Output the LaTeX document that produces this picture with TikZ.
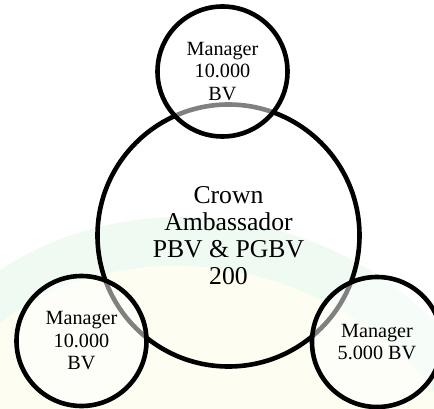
\documentclass[tikz,border=0pt]{standalone}
\usepackage{fontspec}
\setmainfont{Liberation Serif}
\definecolor{mint}{HTML}{EEFAF2}
\definecolor{cream}{HTML}{FEFDF1}
\begin{document}
\begin{tikzpicture}[x=1pt,y=-1pt,
  ring/.style={draw=black, line width=4.6pt, circle, inner sep=0pt, align=center},
  centre/.style={ring, minimum size=262pt, font=\fontsize{25.7}{27}\selectfont},
  member/.style={ring, minimum size=130pt, fill=white, fill opacity=0.5,
    text opacity=1, font=\fontsize{20.2}{22.5}\selectfont},
]
\useasboundingbox (0,0) rectangle (434,409);
\begin{scope}
  \clip (0,0) rectangle (434,409);
  % faint background emblem
  \fill[mint, rotate around={-18:(200,520)}] (200,520) ellipse (330 and 300);
  \fill[cream, rotate around={-18:(200,520)}] (200,520) ellipse (290 and 250);
  % central rank
  \node[centre] (crown) at (228.5,235.5) {Crown\\Ambassador\\PBV \& PGBV\\200};
  % surrounding managers
  \node[member] (mtop) at (222.5,71.5) {Manager\\10.000\\BV};
  \node[member] (mleft) at (81.5,341) {Manager\\10.000\\BV};
  \node[member] (mright) at (377,342) {Manager\\5.000 BV};
\end{scope}
\end{tikzpicture}
\end{document}
